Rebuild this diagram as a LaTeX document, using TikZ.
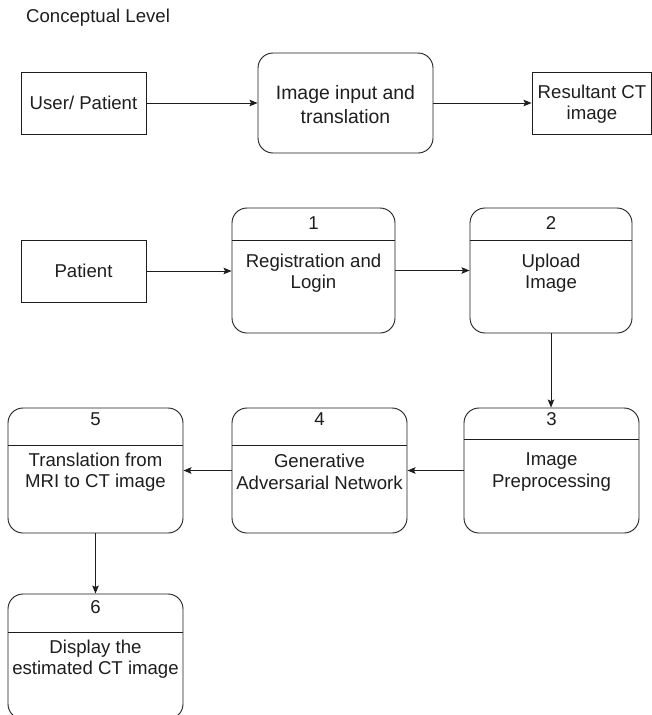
\documentclass[tikz,border=0pt]{standalone}
\usepackage{fontspec}
\setmainfont{Liberation Sans}
\usetikzlibrary{arrows.meta}
\definecolor{ink}{HTML}{1E1E1E}
\tikzset{
  base/.style={draw=ink, line width=0.9pt, inner sep=0pt, text=ink},
  plainbox/.style={base, rectangle},
  procbox/.style={base, rounded corners=15pt},
  txt/.style={text=ink, align=center, inner sep=0pt, font=\fontsize{18.6}{21.5}\selectfont},
  divider/.style={draw=ink, line width=0.9pt},
  arr/.style={draw=ink, line width=0.9pt, -{Stealth[length=8pt,width=6.5pt,inset=1.5pt]}}
}
\begin{document}
\begin{tikzpicture}[x=1pt,y=-1pt]
\useasboundingbox (0,0) rectangle (652,715);
\clip (0,0) rectangle (652,715);
\fill[white] (0,0) rectangle (652,715);

% title
\node[txt, anchor=west] (title) at (26,18) {Conceptual Level};

% conceptual level
\node[plainbox, minimum width=125pt, minimum height=62pt] (user) at (83.5,103) {};
\node[txt] (usert) at (user.center) {User/ Patient};
\node[procbox, minimum width=175pt, minimum height=100pt] (imgin) at (345.5,103) {};
\node[txt, font=\fontsize{19.4}{24}\selectfont] (imgint) at (345.5,105) {Image input and\\translation};
\node[plainbox, minimum width=119pt, minimum height=62pt] (res) at (591.5,103) {};
\node[txt] (rest) at (592,104) {Resultant CT\\image};

\draw[arr] (user.east) -- (imgin.west);
\draw[arr] (imgin.east) -- (res.west);

% second row
\node[plainbox, minimum width=125pt, minimum height=62pt] (patient) at (83.5,271) {};
\node[txt] (patientt) at (patient.center) {Patient};

\node[procbox, minimum width=163pt, minimum height=125pt] (b1) at (313.5,270.5) {};
\draw[divider] (b1.west |- 0,240) -- (b1.east |- 0,240);
\node[txt] (n1) at (313.5,223) {1};
\node[txt] (t1) at (313.5,273) {Registration and\\Login};

\node[procbox, minimum width=162pt, minimum height=125pt] (b2) at (551,270.5) {};
\draw[divider] (b2.west |- 0,240) -- (b2.east |- 0,240);
\node[txt] (n2) at (551,223) {2};
\node[txt] (t2) at (551,273) {Upload\\Image};

% third row
\node[procbox, minimum width=175pt, minimum height=125pt] (b3) at (551.5,470.5) {};
\draw[divider] (b3.west |- 0,439) -- (b3.east |- 0,439);
\node[txt] (n3) at (551.5,419) {3};
\node[txt] (t3) at (551.5,472) {Image\\Preprocessing};

\node[procbox, minimum width=175pt, minimum height=125pt] (b4) at (319.5,470.5) {};
\draw[divider] (b4.west |- 0,445) -- (b4.east |- 0,445);
\node[txt] (n4) at (319.5,419) {4};
\node[txt] (t4) at (319.5,472) {Generative\\Adversarial Network};

\node[procbox, minimum width=175pt, minimum height=125pt] (b5) at (95.5,470.5) {};
\draw[divider] (b5.west |- 0,445) -- (b5.east |- 0,445);
\node[txt] (n5) at (95.5,419) {5};
\node[txt] (t5) at (95.5,472) {Translation from\\MRI to CT image};

% fourth row
\node[procbox, minimum width=175pt, minimum height=125pt] (b6) at (95.5,656.5) {};
\draw[divider] (b6.west |- 0,632) -- (b6.east |- 0,632);
\node[txt] (n6) at (95.5,607) {6};
\node[txt] (t6) at (95.5,659) {Display the\\estimated CT image};

% connectors
\draw[arr] (patient.east) -- (patient.east -| b1.west);
\draw[arr] (b1.east) -- (b2.west);
\draw[arr] (b2.south) -- (b2.south |- b3.north);
\draw[arr] (b3.west) -- (b4.east);
\draw[arr] (b4.west) -- (b5.east);
\draw[arr] (b5.south) -- (b5.south |- b6.north);
\end{tikzpicture}
\end{document}
